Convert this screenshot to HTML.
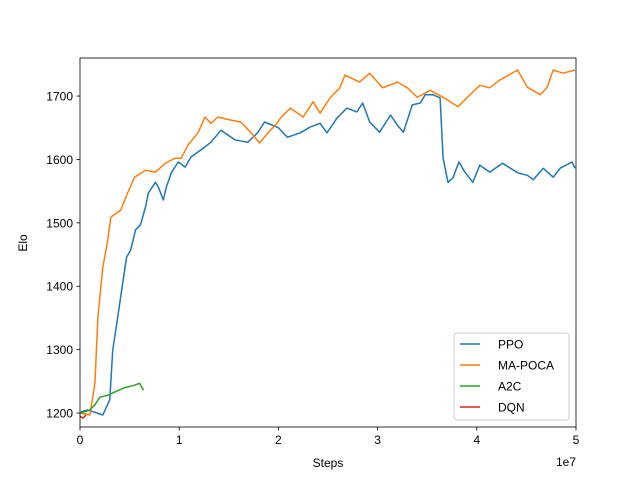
<!DOCTYPE html>
<html><head><meta charset="utf-8"><style>
body{margin:0;background:#fff}
svg{display:block;font-family:"Liberation Sans","DejaVu Sans",sans-serif}
</style></head><body>
<svg id="chart" width="640" height="480" viewBox="0 0 640 480" xmlns="http://www.w3.org/2000/svg">
<rect width="640" height="480" fill="#fff"/>
<g id="plot"></g>
<g id="axes"></g>
</svg>
<script>
const xTicks=[0,1,2,3,4,5];
const yTicks=[1200,1300,1400,1500,1600,1700];
const seriesNames=["PPO","MA-POCA","A2C","DQN"];
const seriesColors=["#1f77b4","#ff7f0e","#2ca02c","#d62728"];
const ppoX=[0.1,0.8,2.3,3.0,3.3,3.8,4.3,4.7,5.1,5.6,6.1,6.6,6.9,7.6,7.9,8.4,8.7,9.2,9.9,10.6,11.2,12.2,13.2,14.2,15.6,16.9,17.9,18.6,20.0,20.9,22.2,23.2,24.2,24.9,25.9,26.9,27.9,28.5,29.2,30.2,31.3,32.0,32.6,33.5,34.3,34.8,35.6,36.3,36.6,37.1,37.6,38.2,38.8,39.6,40.3,41.3,42.6,44.1,45.1,45.7,46.7,47.7,48.4,49.6,49.9];
const ppoY=[1202,1205,1197,1221,1299,1351,1405,1446,1457,1489,1497,1525,1547,1564,1556,1536,1556,1579,1596,1588,1604,1615,1627,1646,1631,1627,1642,1659,1650,1635,1642,1651,1657,1642,1665,1681,1675,1689,1659,1643,1670,1654,1643,1686,1689,1702,1702,1697,1602,1564,1571,1596,1580,1564,1591,1580,1594,1579,1575,1568,1586,1572,1586,1596,1586];
const pocaX=[0.1,1.0,1.5,1.8,2.3,2.8,3.1,4.1,4.8,5.5,6.6,7.6,8.6,9.6,10.2,10.9,11.9,12.6,13.2,13.9,15.2,16.2,17.2,18.1,19.0,19.7,20.2,21.2,22.5,23.5,24.2,25.2,26.2,26.7,28.2,29.2,30.5,32.0,33.0,34.0,35.3,36.6,38.1,39.3,40.3,41.3,42.3,44.1,45.1,46.4,47.1,47.7,48.7,49.9];
const pocaY=[1200,1197,1247,1351,1430,1473,1509,1520,1547,1572,1583,1580,1594,1602,1602,1623,1642,1667,1657,1667,1662,1659,1643,1626,1643,1654,1665,1681,1667,1691,1673,1697,1713,1733,1722,1736,1713,1722,1713,1698,1709,1698,1683,1702,1717,1713,1725,1741,1714,1702,1714,1741,1736,1741];
const a2cX=[0,0.5,1.0,1.5,2.0,2.8,3.5,4.5,5.5,6.0,6.4];
const a2cY=[1200,1202,1205,1213,1225,1228,1233,1240,1244,1247,1236];
const dqnX=[0,0.3,0.6];
const dqnY=[1195,1192,1197];

const L=80,R=576,T=58,B=427;
const xMin=0,xMax=50,yMin=1178,yMax=1760;
function sx(v){return L+(v-xMin)/(xMax-xMin)*(R-L);}
function sy(v){return B-(v-yMin)/(yMax-yMin)*(B-T);}
const NS="http://www.w3.org/2000/svg";
function mk(tag,attrs,parent,text){const e=document.createElementNS(NS,tag);for(const k in attrs)e.setAttribute(k,attrs[k]);if(text!==undefined)e.textContent=text;parent.appendChild(e);return e;}
const plot=document.getElementById('plot'),axes=document.getElementById('axes');
const allX=[ppoX,pocaX,a2cX,dqnX],allY=[ppoY,pocaY,a2cY,dqnY];
const keys=["ppo","ma-poca","a2c","dqn"];
for(let s=0;s<4;s++){
  const pts=allX[s].map((x,i)=>sx(x).toFixed(1)+","+sy(allY[s][i]).toFixed(1)).join(" ");
  const pl=mk('polyline',{points:pts,fill:"none",stroke:seriesColors[s],"stroke-width":1.5,"stroke-linejoin":"round"},plot);
  
  
}
const frame=mk('rect',{x:L,y:T,width:R-L,height:B-T,fill:"none",stroke:"#000","stroke-width":0.8},axes);


xTicks.forEach(t=>{
  const x=sx(t*10);
  mk('line',{x1:x,x2:x,y1:B,y2:B+3.5,stroke:"#000","stroke-width":0.8},axes);
  const tl=mk('text',{x:x,y:B+17,"font-size":12,"text-anchor":"middle"},axes,String(t));
  
  
});
yTicks.forEach(t=>{
  const y=sy(t);
  mk('line',{x1:L-3.5,x2:L,y1:y,y2:y,stroke:"#000","stroke-width":0.8},axes);
  const tl=mk('text',{x:L-7,y:y+4.5,"font-size":12,"text-anchor":"end"},axes,String(t));
  
  
});
const off=mk('text',{x:576,y:466,"font-size":12,"text-anchor":"end"},axes,"1e7");


const xt=mk('text',{x:328,y:467,"font-size":12,"text-anchor":"middle"},axes,"Steps");


const yt=mk('text',{x:0,y:0,"font-size":12,"text-anchor":"middle",transform:"translate(27,243) rotate(-90)"},axes,"Elo");


const lg=mk('g',{},axes);


mk('rect',{x:454,y:333,width:115,height:87,rx:3,fill:"#fff","fill-opacity":0.8,stroke:"#ccc","stroke-width":1},lg);
seriesNames.forEach((n,i)=>{
  const y=344+i*21;
  const e=mk('g',{},lg);
  
  
  mk('line',{x1:460,x2:480,y1:y,y2:y,stroke:seriesColors[i],"stroke-width":1.5},e);
  mk('text',{x:498,y:y+4.5,"font-size":12},e,n);
});
</script>
</body></html>
